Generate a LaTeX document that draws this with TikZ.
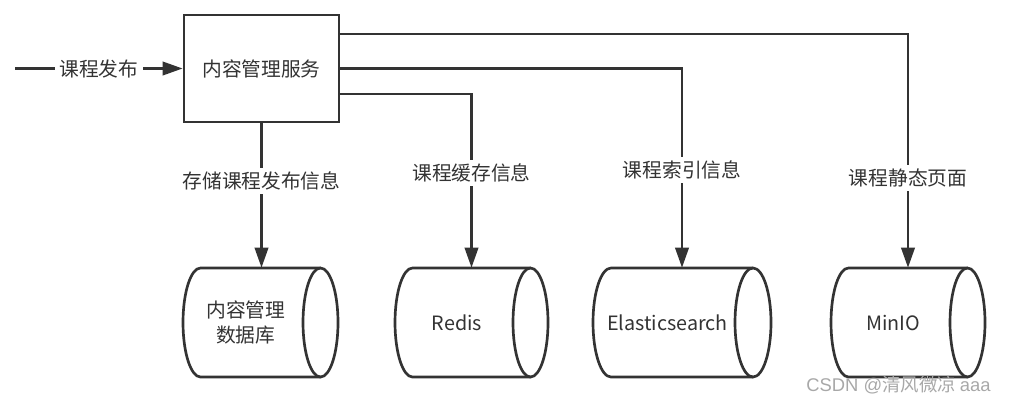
\documentclass[tikz,border=0pt]{standalone}
\usepackage{fontspec}
\setmainfont{Noto Sans CJK SC}
\newfontfamily\wmfont{Liberation Sans}
\usetikzlibrary{arrows.meta}
\definecolor{ink}{HTML}{333333}
\definecolor{wmgray}{HTML}{A8A8A8}

\begin{document}
\begin{tikzpicture}[x=0.75pt,y=0.75pt,yscale=-1,xscale=1,
  every node/.style={text=ink,font=\fontsize{14.8pt}{19pt}\selectfont},
  line/.style={draw=ink,line width=2pt},
  arr/.style={line,-{Triangle[length=15pt,width=10pt]}},
  svcbox/.style={draw=ink,line width=2pt,minimum width=116.25pt,minimum height=80.25pt},
  store/.style={inner sep=0pt,minimum height=81.75pt},
  cantext/.style={align=center,xshift=-11pt},
  lbl/.style={fill=white,inner xsep=3.5pt,inner ysep=3pt}]
\useasboundingbox (0,0) rectangle (1009,405);

%Shape: Rectangle [id:svc]
\node [svcbox] (svc) at (261.5,68.5) {内容管理服务};
\coordinate (src) at (15,68.5);

%Shape: Can [id:db]
\draw [line] (320.5,268) -- (200.5,268) arc (270:90:17.5 and 54.5) -- (320.5,377) ;
\draw [line] (320.5,322.5) ellipse (17.5 and 54.5) ;
\node [store,minimum width=116.25pt,label={[cantext]center:{内容管理\\数据库}}] (db) at (260.5,322.5) {};
%Shape: Can [id:redis]
\draw [line] (530.5,268) -- (412.5,268) arc (270:90:17.5 and 54.5) -- (530.5,377) ;
\draw [line] (530.5,322.5) ellipse (17.5 and 54.5) ;
\node [store,minimum width=114.75pt,label={[cantext]center:Redis}] (redis) at (471.5,322.5) {};
%Shape: Can [id:es]
\draw [line] (753,268) -- (611,268) arc (270:90:18 and 54.5) -- (753,377) ;
\draw [line] (753,322.5) ellipse (18 and 54.5) ;
\node [store,minimum width=133.5pt,label={[cantext]center:Elasticsearch}] (es) at (682,322.5) {};
%Shape: Can [id:minio]
\draw [line] (967.5,268) -- (848.5,268) arc (270:90:17.5 and 54.5) -- (967.5,377) ;
\draw [line] (967.5,322.5) ellipse (17.5 and 54.5) ;
\node [store,minimum width=115.5pt,label={[cantext]center:MinIO}] (minio) at (908,322.5) {};

%Straight Lines
\draw [arr] (src) -- node [lbl] {课程发布} (svc.west);
\draw [arr] (svc.south) -- node [lbl,pos=0.40] {存储课程发布信息} (svc.south |- db.north);
\draw [arr] ([yshift=19.1pt]svc.east) -| node [lbl,pos=0.727] {课程缓存信息} (redis.north);
\draw [arr] (svc.east) -| node [lbl,pos=0.754] {课程索引信息} (es.north);
\draw [arr] ([yshift=-25.9pt]svc.east) -| node [lbl,pos=0.808] {课程静态页面} (minio.north);

% Text Node
\node [text=wmgray,font=\fontsize{13.8pt}{16pt}\selectfont] (wm) at (898.5,385) {\wmfont CSDN @\rmfamily 清风微凉 \wmfont aaa};

\end{tikzpicture}
\end{document}
